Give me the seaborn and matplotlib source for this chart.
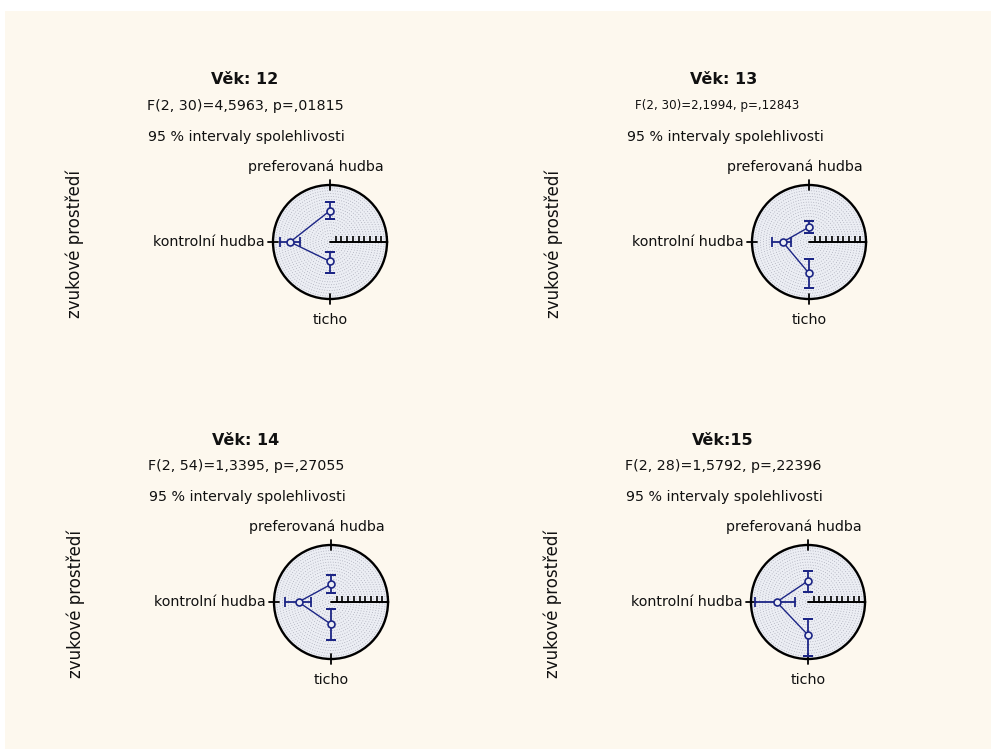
import numpy as np
import pandas as pd
import matplotlib
matplotlib.use("Agg")
import matplotlib.pyplot as plt
import seaborn as sns

sns.set_theme(style="white")
plt.rcParams['font.family'] = ['DejaVu Sans']

# ---- data -------------------------------------------------------------
conditions = ["preferovaná hudba", "kontrolní hudba", "ticho"]
condition_angles = [90, 180, 270]          # degrees on the polar plot

age_titles = ["Věk: 12", "Věk: 13", "Věk: 14", "Věk:15"]
f_tests = ["F(2, 30)=4,5963, p=,01815",
           "F(2, 30)=2,1994, p=,12843",
           "F(2, 54)=1,3395, p=,27055",
           "F(2, 28)=1,5792, p=,22396"]

means_12 = [5.5, 7.0, 3.4]
lower_12 = [4.1, 5.2, 1.7]
upper_12 = [7.0, 8.7, 5.5]

means_13 = [2.6, 4.6, 5.5]
lower_13 = [1.6, 3.2, 2.9]
upper_13 = [3.7, 6.5, 8.1]

means_14 = [3.1, 5.7, 3.9]
lower_14 = [1.5, 3.5, 1.2]
upper_14 = [4.8, 8.1, 6.6]

means_15 = [3.7, 5.5, 5.8]
lower_15 = [1.8, 2.3, 2.9]
upper_15 = [5.5, 9.3, 9.5]

r_max = 10
r_ticks = list(range(1, 11))

# ---- layout helpers (pixel coordinates) -------------------------------
W, H = 991, 749
BG = "#fdf8ee"
NAVY = "#1c2585"
R_PX = 57
FS = 10.3

fig = plt.figure(figsize=(W / 100, H / 100), dpi=100)
fig.patch.set_facecolor("white")
# cream page area with a thin white margin at the top and left
fig.patches.append(plt.Rectangle((5 / W, 0), 1, 1 - 11 / H, transform=fig.transFigure,
                                 facecolor=BG, edgecolor="none", zorder=-10))


def ftext(x, y, s, **kw):
    fig.text(x / W, 1 - y / H, s, color="#111111", **kw)


def polar_panel(cx, cy, title, ftest, means, lower, upper, small_ftest=False):
    ax = fig.add_axes([(cx - R_PX) / W, 1 - (cy + R_PX) / H, 2 * R_PX / W, 2 * R_PX / H],
                      projection="polar")
    ax.set_facecolor("#eceef4")
    ax.set_ylim(0, r_max)
    ax.set_xticks([])
    ax.set_yticks([])
    ax.grid(False)
    ax.spines["polar"].set_color("black")
    ax.spines["polar"].set_linewidth(1.7)

    # dotted concentric rings
    full = np.linspace(0, 2 * np.pi, 361)
    for r in np.arange(0.5, r_max, 0.5):
        ax.plot(full, np.full_like(full, r), ls=(0, (1, 2)), color="#a4a6b4", lw=0.6, zorder=1)

    # radial scale along 0 degrees
    ax.plot([0, 0], [0, r_max], color="black", lw=1.4, zorder=3)
    ax.plot(np.zeros(len(r_ticks)), r_ticks, ls="none", marker=2, ms=4.5, mew=1.2,
            color="black", zorder=3, clip_on=False)
    for a in condition_angles:
        t = np.deg2rad(a)
        ax.plot([t, t], [9.1, 10.9], color="black", lw=1.3, clip_on=False, zorder=3)

    th = np.deg2rad(condition_angles)
    # confidence intervals
    for t, a, lo, hi in zip(th, condition_angles, lower, upper):
        cap = "_" if a in (90, 270) else "|"
        ax.plot([t, t], [lo, hi], color=NAVY, lw=1.3, marker=cap, ms=6.5, mew=1.3, zorder=4)

    df = pd.DataFrame({"uhel": th, "prumer": means, "prostredi": conditions})
    sns.lineplot(data=df, x="uhel", y="prumer", sort=False, ax=ax, color=NAVY, lw=1.0,
                 marker="o", markersize=5, markerfacecolor="#eceef4",
                 markeredgecolor=NAVY, markeredgewidth=1.2, zorder=5)
    ax.set_xlabel("")
    ax.set_ylabel("")
    ax.set_ylim(0, r_max)

    ftext(cx - 85, cy - 162, title, ha="center", va="center", fontsize=11.5, fontweight="bold")
    ftext(cx - 92 if small_ftest else cx - 85, cy - 136, ftest, ha="center", va="center",
          fontsize=8.6 if small_ftest else FS)
    ftext(cx - 84, cy - 105, "95 % intervaly spolehlivosti", ha="center", va="center",
          fontsize=FS)
    ftext(cx - 14, cy - 75, conditions[0], ha="center", va="center", fontsize=FS)
    ftext(cx - 65, cy, conditions[1], ha="right", va="center", fontsize=FS)
    ftext(cx, cy + 78, conditions[2], ha="center", va="center", fontsize=FS)
    ftext(cx - 255, cy + 2, "zvukové prostředí", ha="center", va="center", rotation=90,
          fontsize=12)


polar_panel(330, 242, age_titles[0], f_tests[0], means_12, lower_12, upper_12)
polar_panel(809, 242, age_titles[1], f_tests[1], means_13, lower_13, upper_13, small_ftest=True)
polar_panel(331, 602, age_titles[2], f_tests[2], means_14, lower_14, upper_14)
polar_panel(808, 602, age_titles[3], f_tests[3], means_15, lower_15, upper_15)

fig.savefig("out.png", dpi=100, facecolor=fig.get_facecolor())
